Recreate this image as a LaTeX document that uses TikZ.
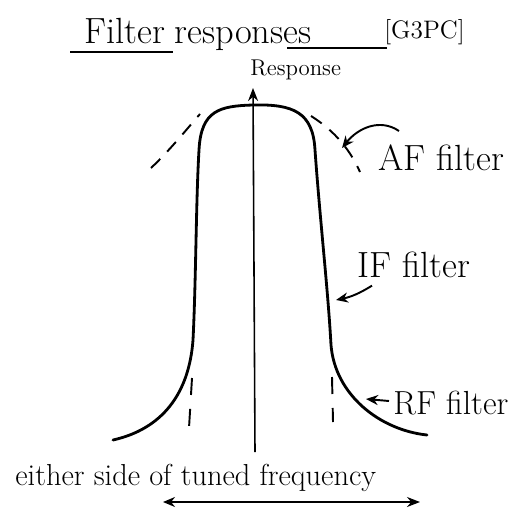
\documentclass[tikz,border=0pt]{standalone}
\usetikzlibrary{arrows.meta,positioning}

\begin{document}
\begin{tikzpicture}[
    x=0.02cm, y=-0.02cm,
    every node/.style={font=\LARGE, inner sep=0pt},
    curve/.style={line width=1.6pt, line cap=round, line join=round},
    afdash/.style={line width=1.1pt, dash pattern=on 0.26cm off 0.2cm},
    rfdash/.style={line width=1.1pt, dash pattern=on 0.34cm off 0.28cm},
    axis/.style={line width=0.9pt, -{Stealth[length=2.6mm, width=2mm]}},
    pointer/.style={line width=1.1pt, -{Stealth[open, length=2.4mm, width=2mm]}}
]
\useasboundingbox (0,0) rectangle (513,507);

% heading
\node[anchor=base west, font=\huge] (filt) at (84,43) {Filter};
\node[font=\huge, right=0.18cm of filt.base east, anchor=base west] (resp) {responses};
\node[anchor=base west, font=\Large] (ref) at (384,38) {[G3PC]};
\draw[line width=1pt] (70,52) -- (173,52);
\draw[line width=1pt] (287,48) -- (387,48);

% axes
\coordinate (ybot) at (255,452);
\coordinate (ytop) at (253,88);
\node[anchor=base west, font=\fontsize{13}{15}\selectfont] (ylab) at (250,75) {Response};
\draw[axis] (ybot) -- (ytop);
\coordinate (xl) at (163,502);
\coordinate (xr) at (420,502);
\draw[line width=0.9pt, {Stealth[length=2.4mm, width=2mm]}-{Stealth[length=2.6mm, width=2mm]}] (xl) -- (xr);
\node[anchor=base west] (xlab) at (15,485) {either side of tuned frequency};

% IF response
\draw[curve] (113,440) .. controls (162,429) and (189,394) .. (193,340)
    .. controls (196,280) and (196,200) .. (199,150)
    .. controls (201,110) and (220,106) .. (253,105)
    .. controls (293,104) and (313,112) .. (315,150)
    .. controls (320,220) and (328,290) .. (331,345)
    .. controls (335,395) and (380,430) .. (427,435);

% AF response
\draw[afdash] (151,168) .. controls (170,150) and (186,130) .. (200,114);
\draw[afdash] (311,116) .. controls (330,128) and (348,145) .. (360,172);

% RF response
\draw[rfdash] (192,378) -- (189,428);
\draw[rfdash] (332,377) -- (333,422);

% labels
\node[anchor=base west, font=\huge] (af) at (378,170) {AF filter};
\node[anchor=base west, font=\huge] (iff) at (357,277) {IF filter};
\node[anchor=base west, font=\fontsize{19}{22}\selectfont] (rf) at (393,414) {RF filter};
\coordinate (afpt) at (342,148);
\coordinate (ifpt) at (336,300);
\coordinate (rfpt) at (366,399);
\draw[pointer] (399,131) .. controls (380,118) and (358,128) .. (afpt);
\draw[pointer] ([shift={(15,8)}]iff.south west) to[bend left=10] (ifpt);
\draw[pointer] ([shift={(-4,-13)}]rf.base west) -- (rfpt);
\end{tikzpicture}
\end{document}
